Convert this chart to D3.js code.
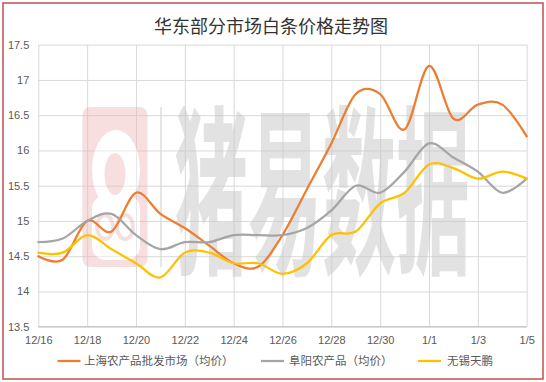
<!DOCTYPE html>
<html><head><meta charset="utf-8">
<script src="https://cdn.jsdelivr.net/npm/d3@7"></script>
<style>body{margin:0;background:#fff}svg{display:block}</style>
</head><body><svg id="c" width="546" height="382"></svg>
<script>
const dates = ["12/16","12/17","12/18","12/19","12/20","12/21","12/22","12/23","12/24","12/25","12/26","12/27","12/28","12/29","12/30","12/31","1/1","1/2","1/3","1/4","1/5"];
const shanghai = [14.5,14.45,15.0,14.85,15.4,15.1,14.9,14.65,14.4,14.35,14.8,15.45,16.1,16.8,16.8,16.3,17.2,16.45,16.65,16.65,16.2];
const fuyang   = [14.7,14.75,15.0,15.1,14.8,14.6,14.7,14.7,14.8,14.8,14.8,14.9,15.15,15.5,15.4,15.7,16.1,15.9,15.7,15.4,15.6];
const wuxi     = [14.55,14.55,14.8,14.6,14.4,14.2,14.55,14.55,14.4,14.4,14.25,14.4,14.8,14.85,15.25,15.4,15.8,15.75,15.6,15.7,15.6];
const yTicks = [13.5,14,14.5,15,15.5,16,16.5,17,17.5];
const xTickLabels = ["12/16","12/18","12/20","12/22","12/24","12/26","12/28","12/30","1/1","1/3","1/5"];
const seriesNames = ["上海农产品批发市场（均价）","阜阳农产品（均价）","无锡天鹏"];
const title = "华东部分市场白条价格走势图";
const watermark = "猪易数据";

const colors = ["#ED7D31","#A5A5A5","#FFC000"];
const series = [shanghai, fuyang, wuxi];

const svg = d3.select("#c");
const L = 38.3, R = 526.7, T = 44.7, B = 326.7;
const x = d3.scalePoint().domain(dates).range([L, R]);
const y = d3.scaleLinear().domain([13.5, 17.5]).range([B, T]);

svg.append("rect").attr("width",546).attr("height",382).attr("fill","#fff");
svg.append("rect").attr("x",3).attr("y",3).attr("width",540).attr("height",376)
  .attr("fill","none").attr("stroke","#c0504d").attr("stroke-width",1.5);

svg.append("text").attr("x",271).attr("y",33).attr("text-anchor","middle")
  .attr("font-family","'Noto Sans CJK SC', sans-serif").attr("font-size",18)
  .attr("fill","#333").text(title);

// grid
const gy = svg.append("g").attr("transform",`translate(${L},0)`)
  .call(d3.axisLeft(y).tickValues(yTicks).tickSize(-(R-L)).tickFormat(""));
gy.select(".domain").remove();
gy.selectAll(".tick line").attr("stroke","#d9d9d9").attr("stroke-width",1);

const gx = svg.append("g").attr("transform",`translate(0,${B})`)
  .call(d3.axisBottom(x).tickValues(xTickLabels).tickSize(-(B-T)).tickFormat(""));
gx.select(".domain").remove();
gx.selectAll(".tick line").attr("stroke","#d9d9d9").attr("stroke-width",1);

// watermark
const wm = svg.append("g");
const logo = wm.append("g").attr("opacity",0.42);
logo.append("rect").attr("x",82.5).attr("y",107).attr("width",65).attr("height",160).attr("rx",8)
  .attr("fill","#f0b4b4");
logo.append("ellipse").attr("cx",116).attr("cy",170).attr("rx",24).attr("ry",40).attr("fill","#fff");
logo.append("rect").attr("x",92).attr("y",195).attr("width",48).attr("height",65).attr("rx",14).attr("fill","#fff");
logo.append("ellipse").attr("cx",115).attr("cy",174).attr("rx",10.5).attr("ry",21).attr("fill","#f0b4b4");
logo.append("ellipse").attr("cx",105).attr("cy",227).attr("rx",8).attr("ry",12).attr("fill","none").attr("stroke","#f0b4b4").attr("stroke-width",4);
logo.append("ellipse").attr("cx",125).attr("cy",227).attr("rx",8).attr("ry",12).attr("fill","none").attr("stroke","#f0b4b4").attr("stroke-width",4);
wm.append("line").attr("x1",161).attr("x2",161).attr("y1",107).attr("y2",267)
  .attr("stroke","#d6d6d6").attr("stroke-width",2).attr("opacity",0.6);
wm.append("text").attr("transform","translate(174,260) scale(1,2.45)")
  .attr("font-family","'Noto Sans CJK SC', sans-serif").attr("font-weight",700)
  .attr("font-size",74).attr("fill","#c8c8c8").attr("opacity",0.52).text(watermark);

// axis line bottom
svg.append("line").attr("x1",L).attr("x2",R).attr("y1",B).attr("y2",B)
  .attr("stroke","#bfbfbf").attr("stroke-width",1);

// axis labels
const ay = svg.append("g").attr("transform",`translate(${L},0)`)
  .call(d3.axisLeft(y).tickValues(yTicks).tickSize(0).tickPadding(9).tickFormat(d=>String(d)));
ay.select(".domain").remove();
ay.selectAll("text").attr("font-family","'Liberation Sans', Arial, sans-serif").attr("font-size",11).attr("fill","#595959");

const ax = svg.append("g").attr("transform",`translate(0,${B})`)
  .call(d3.axisBottom(x).tickValues(xTickLabels).tickSize(0).tickPadding(10));
ax.select(".domain").remove();
ax.selectAll("text").attr("font-family","'Liberation Sans', Arial, sans-serif").attr("font-size",11).attr("fill","#595959");

// lines
const line = d3.line().x((d,i)=>x(dates[i])).y(d=>y(d)).curve(d3.curveCardinal.tension(0));
series.forEach((s,k)=>{
  svg.append("path").datum(s).attr("d",line).attr("fill","none")
    .attr("stroke",colors[k]).attr("stroke-width",2.25).attr("stroke-linecap","round").attr("stroke-linejoin","round");
});

// legend
const legX = [[57.5,84],[261,289],[418,447]];
const legY = 361;
seriesNames.forEach((n,k)=>{
  svg.append("line").attr("x1",legX[k][0]).attr("x2",legX[k][0]+23).attr("y1",legY).attr("y2",legY)
    .attr("stroke",colors[k]).attr("stroke-width",2.25);
  svg.append("text").attr("x",legX[k][1]).attr("y",legY+4.2)
    .attr("font-family","'Noto Sans CJK SC', sans-serif").attr("font-size",11.5).attr("fill","#595959").text(n);
});
</script></body></html>
